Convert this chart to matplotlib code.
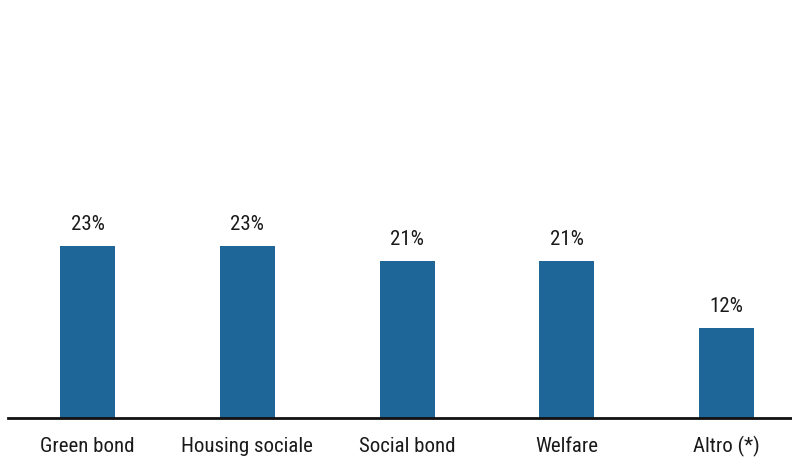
import matplotlib
matplotlib.use("Agg")
import matplotlib.pyplot as plt
from matplotlib import font_manager

categories = ["Green bond", "Housing sociale", "Social bond", "Welfare", "Altro (*)"]
values = [23, 23, 21, 21, 12]
value_labels = ["23%", "23%", "21%", "21%", "12%"]

# Prefer a narrow sans-serif face for all text
names = {f.name for f in font_manager.fontManager.ttflist}
candidates = ["Liberation Sans Narrow", "Arial Narrow", "Roboto Condensed",
              "Archivo Narrow", "PT Sans Narrow", "IBM Plex Sans Condensed"]
family = next((c for c in candidates if c in names), "Open Sans")
plt.rcParams["font.family"] = [family, "DejaVu Sans"]
plt.rcParams["font.stretch"] = "condensed"

W, H = 792, 457
base_y = 418
fig = plt.figure(figsize=(W / 100, H / 100), dpi=100)
ax = fig.add_axes([8 / W, 1 - base_y / H, 1 - 8 / W, base_y / H])

color = "#1f6698"
text_color = "#1a1a1a"
x = list(range(len(categories)))
ax.bar(x, values, width=0.344, color=color, zorder=2)

for xi, v, lab in zip(x, values, value_labels):
    ax.annotate(lab, (xi, v), xytext=(0, 11.5), textcoords="offset points",
                ha="center", va="baseline", fontsize=15, color=text_color)

ax.set_xlim(-0.498, 4.41)
ax.set_ylim(0, 55.9)
ax.set_xticks(x)
ax.set_xticklabels(categories, fontsize=15, color=text_color)
# category names share one baseline below the axis line
for lbl in ax.get_xticklabels():
    lbl.set_verticalalignment("baseline")
ax.tick_params(axis="x", length=0, pad=24.5)
ax.set_yticks([])
for side in ("top", "right", "left"):
    ax.spines[side].set_visible(False)
ax.spines["bottom"].set_linewidth(2)
ax.spines["bottom"].set_color("#111111")
ax.patch.set_alpha(0)

fig.savefig("out.png", dpi=100)
